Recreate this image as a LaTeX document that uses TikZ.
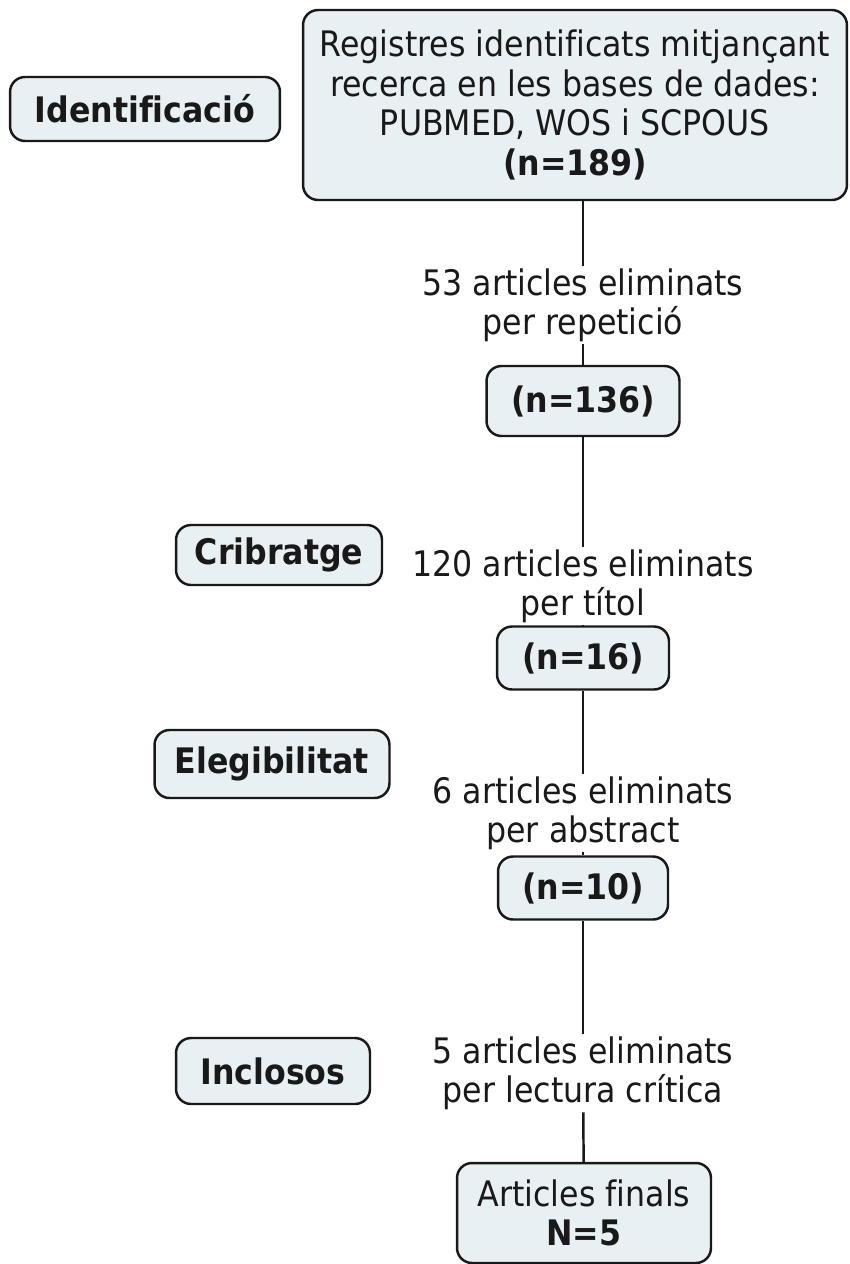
\documentclass[tikz,border=0pt]{standalone}
\usepackage{fontspec}
\setmainfont{DejaVu Sans}[FakeStretch=0.9, Ligatures=NoCommon]
\usepackage{xcolor}
\usetikzlibrary{positioning}
\definecolor{boxfill}{RGB}{232,240,243}
\definecolor{ink}{RGB}{25,25,25}

\begin{document}
\begin{tikzpicture}[
    x=0.02cm, y=-0.02cm,
    box/.style={rectangle, draw=ink, text=ink, line width=1.4pt, fill=boxfill, align=center, rounded corners=0.3cm, font=\fontsize{20}{22.5}\selectfont},
    phase/.style={box, font=\fontsize{20}{22.5}\selectfont\bfseries},
    note/.style={align=center, text=ink, inner sep=1.5pt, font=\fontsize{20}{22}\selectfont},
    line/.style={draw=ink, line width=1.4pt}
]
\useasboundingbox (0,0) rectangle (849,1264);

% phases on the left
\node[phase, minimum width=5.4cm, minimum height=1.28cm] (ident) at (145,109) {Identificació};
\node[phase, minimum width=4.12cm, minimum height=1.2cm] (crib) at (279,555) {Cribratge};
\node[phase, minimum width=4.7cm, minimum height=1.36cm] (eleg) at (272,764) {Elegibilitat};
\node[phase, minimum width=3.88cm, minimum height=1.32cm] (incl) at (273,1071) {Inclosos};

% main column
\node[box, minimum width=10.88cm, minimum height=3.8cm] (search) at (575,105) {Registres identificats mitjançant\\recerca en les bases de dades:\\PUBMED, WOS i SCPOUS\\\textbf{(n=189)}};
\node[note] (rep) at (583,305) {53 articles eliminats\\per repetició};
\node[phase, minimum width=3.86cm, minimum height=1.4cm] (n136) at (583,401) {(n=136)};
\node[note] (tit) at (583,586) {120 articles eliminats\\per títol};
\node[phase, minimum width=3.44cm, minimum height=1.26cm] (n16) at (583,658) {(n=16)};
\node[note] (abs) at (583,813) {6 articles eliminats\\per abstract};
\node[phase, minimum width=3.4cm, minimum height=1.26cm] (n10) at (583,888) {(n=10)};
\node[note] (lect) at (583,1073) {5 articles eliminats\\per lectura crítica};
\node[box, minimum width=5.08cm, minimum height=2cm] (final) at (584,1213) {Articles finals\\\textbf{N=5}};

\draw[line] (search.south -| rep) -- (rep);
\draw[line] (rep) -- (n136);
\draw[line] (n136) -- (tit);
\draw[line] (tit) -- (n16);
\draw[line] (n16) -- (abs);
\draw[line] (abs) -- (n10);
\draw[line] (n10) -- (lect);
\draw[line] (lect) -- (final);
\end{tikzpicture}
\end{document}
